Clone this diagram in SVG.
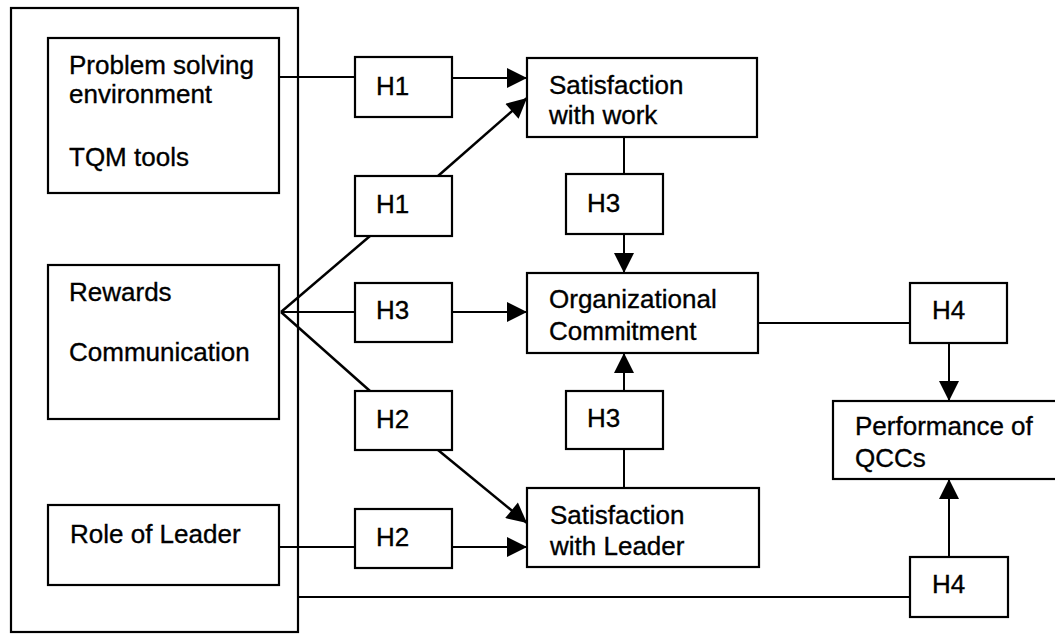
<svg xmlns="http://www.w3.org/2000/svg" width="1055" height="634" viewBox="0 0 1055 634">
<style>
rect{fill:none;stroke:#000;stroke-width:2.2}
text{font-family:"Liberation Sans",Arial,sans-serif;font-size:26px;fill:#000;stroke:#000;stroke-width:0.35}
.c line{stroke:#000;stroke-width:2}
.c .d{stroke-width:2.5}
.a{marker-end:url(#ah)}
</style>
<defs>
<marker id="ah" viewBox="0 0 20 20" markerWidth="21" markerHeight="20" refX="20" refY="10" markerUnits="userSpaceOnUse" orient="auto">
<path d="M0,0 L20,10 L0,20 z" fill="#000"/>
</marker>
</defs>
<rect width="1055" height="634" style="fill:#fff;stroke:none"/>
<g id="outer"><rect x="11" y="8" width="287" height="624"/></g>
<g id="problem"><rect x="48" y="38" width="231" height="155"/>
<text x="69" y="74">Problem solving</text><text x="69" y="103">environment</text><text x="69" y="166">TQM tools</text></g>
<g id="rewards"><rect x="48" y="265" width="231" height="154"/>
<text x="69" y="301">Rewards</text><text x="69" y="361">Communication</text></g>
<g id="role"><rect x="48" y="505" width="231" height="80"/>
<text x="70" y="543">Role of Leader</text></g>
<g id="h1a"><rect x="355" y="57" width="97" height="60"/><text x="376" y="95">H1</text></g>
<g id="h1b"><rect x="355" y="176" width="97" height="60"/><text x="376" y="213">H1</text></g>
<g id="h3a"><rect x="355" y="283" width="97" height="59"/><text x="376" y="319">H3</text></g>
<g id="h2a"><rect x="355" y="391" width="97" height="59"/><text x="376" y="428">H2</text></g>
<g id="h2b"><rect x="355" y="509" width="97" height="59"/><text x="376" y="546">H2</text></g>
<g id="satwork"><rect x="527" y="58" width="230" height="79"/><text x="549" y="94">Satisfaction</text><text x="549" y="124">with work</text></g>
<g id="h3b"><rect x="566" y="174" width="97" height="60"/><text x="587" y="212">H3</text></g>
<g id="org"><rect x="527" y="273" width="231" height="80"/><text x="549" y="308">Organizational</text><text x="549" y="340">Commitment</text></g>
<g id="h3c"><rect x="566" y="391" width="97" height="58"/><text x="587" y="427">H3</text></g>
<g id="satleader"><rect x="527" y="488" width="232" height="79"/><text x="550" y="524">Satisfaction</text><text x="550" y="555">with Leader</text></g>
<g id="h4a"><rect x="910" y="283" width="97" height="60"/><text x="932" y="319">H4</text></g>
<g id="perf"><rect x="833" y="401" width="230" height="78"/><text x="855" y="435">Performance of</text><text x="855" y="467">QCCs</text></g>
<g id="h4b"><rect x="910" y="557" width="98" height="60"/><text x="932" y="593">H4</text></g>
<g class="c" id="connectors">
<line x1="279" y1="77" x2="355" y2="77"/>
<line class="a" x1="452" y1="78" x2="527" y2="78"/>
<line class="a d" x1="438" y1="176" x2="527" y2="98"/>
<line class="d" x1="281" y1="312" x2="370" y2="236"/>
<line x1="281" y1="312" x2="355" y2="312"/>
<line class="a" x1="452" y1="312" x2="527" y2="312"/>
<line class="d" x1="281" y1="312" x2="370" y2="391"/>
<line class="a d" x1="438" y1="450" x2="527" y2="523"/>
<line x1="279" y1="547" x2="355" y2="547"/>
<line class="a" x1="452" y1="547" x2="527" y2="547"/>
<line x1="624" y1="137" x2="624" y2="174"/>
<line class="a" x1="624" y1="234" x2="624" y2="273"/>
<line x1="624" y1="488" x2="624" y2="449"/>
<line class="a" x1="624" y1="391" x2="624" y2="353"/>
<line x1="758" y1="323" x2="910" y2="323"/>
<line class="a" x1="949" y1="343" x2="949" y2="401"/>
<line x1="298" y1="597" x2="910" y2="597"/>
<line class="a" x1="949" y1="557" x2="949" y2="479"/>
</g>
</svg>
